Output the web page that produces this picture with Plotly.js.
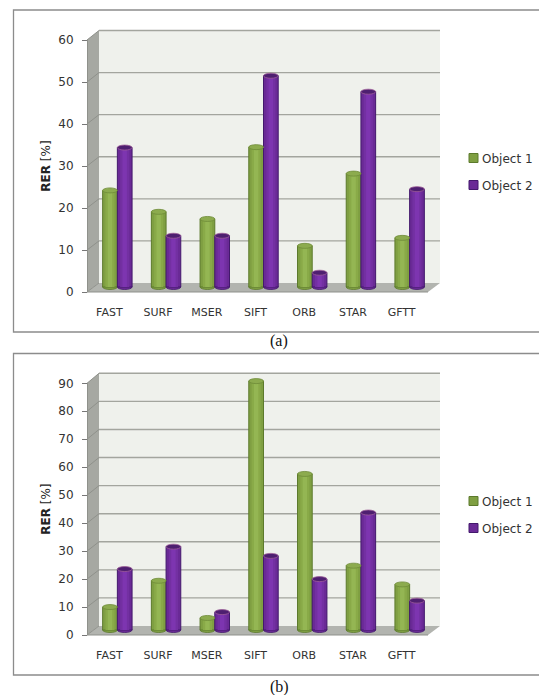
<!DOCTYPE html>
<html><head><meta charset="utf-8">
<script src="https://cdn.plot.ly/plotly-3.0.1.min.js"></script>
<style>html,body{margin:0;padding:0;background:#fff;overflow:hidden}</style>
</head><body><div id="chart" style="width:539px;height:695px"></div>
<script>
const categories = ['FAST','SURF','MSER','SIFT','ORB','STAR','GFTT'];
const seriesNames = ['Object 1','Object 2'];
const panelA_object1 = [23,17.9,16.2,33.3,9.8,27,11.7];
const panelA_object2 = [33.2,12.2,12.2,50.3,3.4,46.5,23.3];
const panelB_object1 = [8.2,17.6,4.3,89,55.8,23,16.3];
const panelB_object2 = [21.8,29.8,6.4,26.5,18.2,42,10.5];
const ticksA = [0,10,20,30,40,50,60];
const ticksB = [0,10,20,30,40,50,60,70,80,90];

const W=539,H=695;
const px=v=>v/W, py=v=>1-v/H;
const greenLayers=[['#7f9f42',1.0],['#89aa48',0.62],['#94b653',0.3]];
const purpleLayers=[['#6a2a96',1.0],['#7330a2',0.62],['#7d35b0',0.3]];
const edge=['#5c7a2c','#43196c'];
const capFill=['#8cab4e','#4e1f70'];
const capLine=['#6f8c38','#9a5a96'];
const barW=0.302;

const panels=[
 {vals:[panelA_object1,panelA_object2],ticks:ticksA,max:60,front0:292,frontTop:40,back0:283,backTop:30.5,frame:[10,332],
  legendY:[158,185],caption:'(a)',capY:341,ax:['x','y','x2','y2'],legends:['legend','legend2']},
 {vals:[panelB_object1,panelB_object2],ticks:ticksB,max:90,front0:635,frontTop:383.3,back0:626,backTop:373.3,frame:[353.5,675],
  legendY:[501,528],caption:'(b)',capY:687,ax:['x3','y3','x4','y4'],legends:['legend3','legend4']}
];
const long=a=>a.replace('x','xaxis').replace('y','yaxis');

const traces=[],shapes=[],annotations=[],layout={
  width:W,height:H,margin:{l:0,r:0,t:0,b:0,pad:0,autoexpand:false},paper_bgcolor:'#fff',plot_bgcolor:'rgba(0,0,0,0)',
  barmode:'overlay',hovermode:false,font:{family:'DejaVu Sans',color:'#333'}
};
const poly=(pts,fill)=>({type:'path',xref:'paper',yref:'paper',layer:'below',
  path:'M'+pts.map(p=>px(p[0])+','+py(p[1])).join('L')+'Z',fillcolor:fill,line:{width:0}});

panels.forEach((p,pi)=>{
  const k=(p.front0-p.frontTop)/p.max;
  const kBack=(p.back0-p.backTop)/p.max;
  const base=(p.front0+p.back0)/2-0.5;
  const lo=-0.06*p.max, hi=1.08*p.max;
  const [xb,yb,xt,yt]=p.ax;
  // frame
  shapes.push({type:'rect',xref:'paper',yref:'paper',layer:'below',x0:px(13.5),x1:px(545),y0:py(p.frame[0]),y1:py(p.frame[1]),
    line:{color:'#8c8c8c',width:1.3},fillcolor:'#fff'});
  // walls
  shapes.push(poly([[99,p.backTop],[440,p.backTop],[440,p.back0],[99,p.back0]],'#eff1ec'));
  shapes.push(poly([[87,p.frontTop],[99,p.backTop],[99,p.back0],[87,p.front0]],'#a6a8a2'));
  shapes.push(poly([[87,p.front0],[99,p.back0],[440,p.back0],[428,p.front0]],'#b2b4af'));
  // gridlines
  p.ticks.forEach(t=>{
    const yf=p.front0-k*t,yk=p.back0-kBack*t;
    shapes.push({type:'path',xref:'paper',yref:'paper',layer:'below',
      path:`M${px(87)},${py(yf)}L${px(99)},${py(yk)}`,line:{color:'#8f918b',width:1}});
    if(t>0) shapes.push({type:'path',xref:'paper',yref:'paper',layer:'below',
      path:`M${px(99)},${py(yk)}L${px(440)},${py(yk)}`,line:{color:'#a3a59e',width:1.4}});
  });
  shapes.push({type:'path',xref:'paper',yref:'paper',layer:'below',
    path:`M${px(87)},${py(p.front0)}L${px(428)},${py(p.front0)}`,line:{color:'#8f918b',width:1}});
  // bars
  const xIdx=categories.map((_,i)=>i);
  p.vals.forEach((vals,si)=>{
    const layers=si===0?greenLayers:purpleLayers;
    const off=si===0?-barW:0;
    layers.forEach((l,li)=>{
      const w=barW*l[1];
      traces.push({type:'bar',x:xIdx,y:vals,xaxis:xb,yaxis:yb,width:w,offset:off+(barW-w)/2,
        name:seriesNames[si],showlegend:li===0,legend:p.legends[si],
        marker:{color:l[0],line:{color:edge[si],width:li===0?1:0}}});
    });
    vals.forEach((v,i)=>{
      shapes.push({type:'circle',xref:xb,yref:yb,layer:'between',xsizemode:'scaled',ysizemode:'pixel',yanchor:0,
        x0:i+off,x1:i+off+barW,y0:-2.5,y1:2.5,fillcolor:si===0?'#7f9f42':'#6a2a96',line:{color:edge[si],width:0.8}});
      shapes.push({type:'circle',xref:xb,yref:yb,layer:'above',xsizemode:'scaled',ysizemode:'pixel',yanchor:v,
        x0:i+off,x1:i+off+barW,y0:-2.5,y1:2.5,fillcolor:capFill[si],line:{color:capLine[si],width:0.8}});
    });
  });
  // bars scales
  layout[long(xb)]={domain:[px(93),px(434)],range:[-0.5,6.5],visible:false,anchor:yb,fixedrange:true};
  layout[long(yb)]={domain:[py(base+k*(-lo)),py(base-k*hi)],range:[lo,hi],visible:false,anchor:xb,fixedrange:true};
  // visible axes on the front edge
  traces.push({type:'scatter',mode:'none',x:[],y:[],xaxis:xt,yaxis:yt,showlegend:false});
  layout[long(xt)]={domain:[px(85),px(426)],range:[-0.5,6.5],anchor:yt,tickmode:'array',tickvals:xIdx,ticktext:categories,
    ticks:'',showline:false,showgrid:false,zeroline:false,ticklabelstandoff:12,tickfont:{family:'DejaVu Sans',size:11,color:'#333'},fixedrange:true};
  layout[long(yt)]={domain:[py(p.front0),py(p.frontTop)],range:[0,p.max],anchor:'free',position:px(87),tickmode:'array',tickvals:p.ticks,
    ticks:'outside',ticklen:5,tickcolor:'#777',tickwidth:1,showline:true,linecolor:'#8f918b',showgrid:false,zeroline:false,
    tickfont:{family:'DejaVu Sans',size:12,color:'#333'},ticklabelstandoff:6,fixedrange:true,
    title:{text:'<b>RER</b> [%]',font:{family:'DejaVu Sans',size:12,color:'#222'},standoff:4}};
  // legends
  p.legends.forEach((name,si)=>{
    layout[name]={x:px(442),y:py(p.legendY[si]),xanchor:'left',yanchor:'middle',bgcolor:'rgba(0,0,0,0)',borderwidth:0,
      font:{family:'DejaVu Sans',size:12,color:'#333'}};
  });
  annotations.push({xref:'paper',yref:'paper',x:px(279),y:py(p.capY),xanchor:'center',yanchor:'middle',showarrow:false,
    text:p.caption,font:{family:'Liberation Serif',size:16,color:'#111'}});
});
layout.shapes=shapes;layout.annotations=annotations;

Plotly.newPlot('chart',traces,layout,{displayModeBar:false,staticPlot:true}).then(()=>{
  // tighten the legend swatch to its label
  document.querySelectorAll('.legendpoints path').forEach(t=>{t.setAttribute('d','M4.5,4.5H-4.5V-4.5H4.5Z');t.setAttribute('transform','translate(31.5,0)');});
});
</script></body></html>
